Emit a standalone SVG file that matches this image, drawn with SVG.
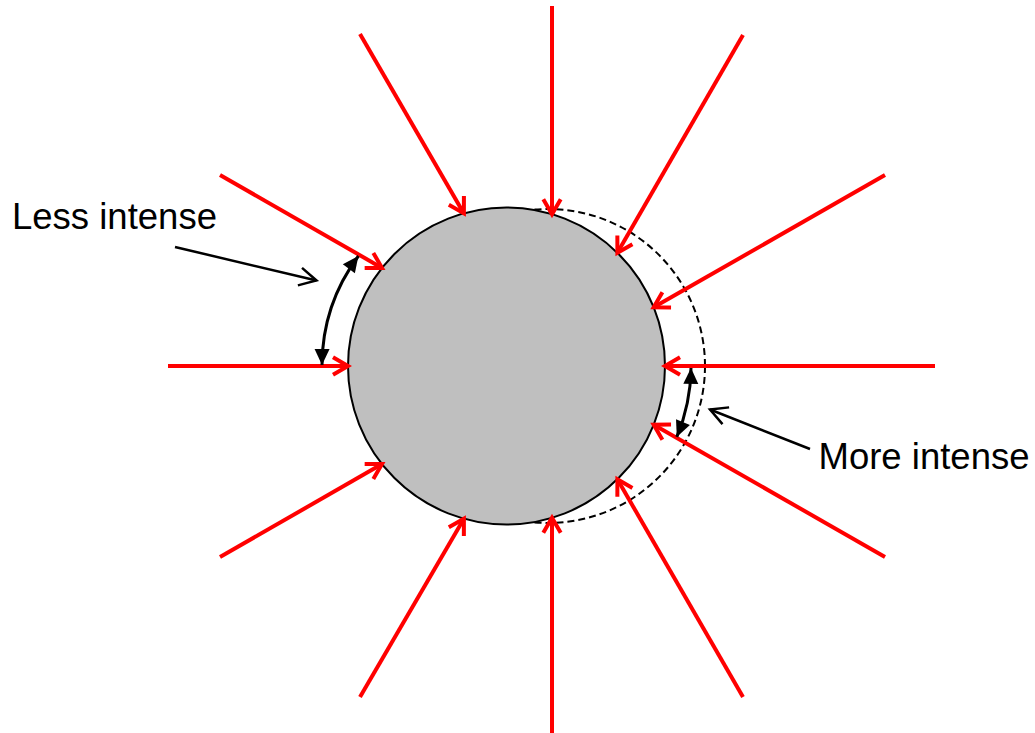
<svg xmlns="http://www.w3.org/2000/svg" width="1035" height="733" viewBox="0 0 1035 733">
<style>
.ray{stroke:#FF0000;stroke-width:4;fill:none;marker-end:url(#redV)}
.arc{stroke:#000;stroke-width:3;fill:none;marker-start:url(#blkT);marker-end:url(#blkT)}
.ptr{stroke:#000;stroke-width:2.5;fill:none;marker-end:url(#blkV)}
.lbl{font-family:"Liberation Sans",Arial,sans-serif;font-size:36.5px;fill:#000}
</style>
<defs>
<marker id="redV" markerUnits="userSpaceOnUse" orient="auto" markerWidth="40" markerHeight="40" refX="0" refY="0" viewBox="-20 -20 40 40" overflow="visible">
<path d="M-15,-8.7 L0,0 L-15,8.7" fill="none" stroke="#FF0000" stroke-width="4" stroke-linejoin="miter"/>
</marker>
<marker id="blkT" markerUnits="userSpaceOnUse" orient="auto-start-reverse" markerWidth="40" markerHeight="40" refX="0" refY="0" viewBox="-20 -20 40 40" overflow="visible">
<path d="M-16,-7.5 L0,0 L-16,7.5 Z" fill="#000"/>
</marker>
<marker id="blkV" markerUnits="userSpaceOnUse" orient="auto" markerWidth="40" markerHeight="40" refX="0" refY="0" viewBox="-20 -20 40 40" overflow="visible">
<path d="M-17,-9 L0,0 L-17,9" fill="none" stroke="#000" stroke-width="2.5"/>
</marker>
</defs>
<rect width="1035" height="733" fill="#FFFFFF"/>
<g id="shifted-sphere">
<circle cx="548" cy="366" r="157" fill="none" stroke="#000" stroke-width="2" stroke-dasharray="7 4"/>
</g>
<g id="sphere">
<circle cx="506.5" cy="366" r="158.5" fill="#BFBFBF" stroke="#000" stroke-width="2"/>
</g>
<g id="connectors">
<line class="ray" x1="935" y1="366" x2="665" y2="366"/>
<line class="ray" x1="885" y1="557" x2="653.7" y2="424.7"/>
<line class="ray" x1="743" y1="697" x2="617.4" y2="479.3"/>
<line class="ray" x1="552" y1="740" x2="552" y2="517.8"/>
<line class="ray" x1="360" y1="697" x2="463.9" y2="518.7"/>
<line class="ray" x1="220" y1="557" x2="382" y2="464.1"/>
<line class="ray" x1="168" y1="366" x2="348" y2="366"/>
<line class="ray" x1="220" y1="175" x2="382" y2="267.9"/>
<line class="ray" x1="360" y1="34" x2="463.9" y2="213.4"/>
<line class="ray" x1="552" y1="6" x2="552" y2="214.2"/>
<line class="ray" x1="743" y1="35" x2="617.4" y2="252.8"/>
<line class="ray" x1="885" y1="175" x2="653.7" y2="307.3"/>
<path class="arc" d="M358.4,256 A184.5,184.5 0 0 0 322,365"/>
<path class="arc" d="M691,367.9 A184.5,184.5 0 0 1 676.8,436.9"/>
<line class="ptr" x1="175" y1="247" x2="316.5" y2="280.5"/>
<line class="ptr" x1="810" y1="449" x2="710" y2="409.5"/>
</g>
<g id="label-less">
<text class="lbl" x="12" y="229">Less intense</text>
</g>
<g id="label-more">
<text class="lbl" x="818.5" y="469">More intense</text>
</g>
</svg>
